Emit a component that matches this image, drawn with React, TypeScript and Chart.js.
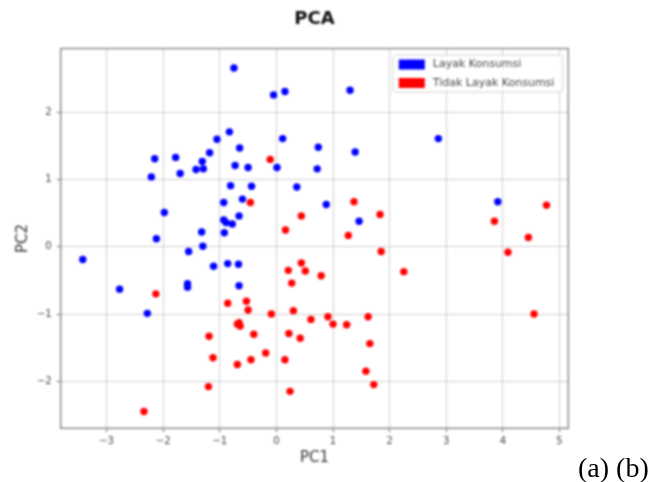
import { useEffect, useRef } from "react";
import { Chart, registerables } from "chart.js";

Chart.register(...registerables);

// Labels and ticks
const chartTitle = "PCA";
const xTitle = "PC1";
const yTitle = "PC2";
const seriesNames = ["Layak Konsumsi", "Tidak Layak Konsumsi"];
const seriesColors = ["#0000ff", "#ff0000"];
const xTicks = [-3, -2, -1, 0, 1, 2, 3, 4, 5];
const yTicks = [-2, -1, 0, 1, 2];
const xRange = [-3.81, 5.155];
const yRange = [-2.7, 2.95];

// Layak Konsumsi scores
const layakX = [
  -0.75, -0.05, 0.15, 1.3, -0.83, -1.05, 0.11, -0.65, 0.74, 1.39,
  -1.18, -2.15, -1.78, -1.31, -1.42, -1.29, -1.7, -2.21, -0.73, -0.5,
  0.01, 0.72, -0.81, -0.44, 0.36, -0.6, -0.93, 0.88, -1.98, -0.66,
  -0.93, -0.89, -0.78, -1.32, -0.92, -2.12, 1.46, 2.86, 3.91, -3.42,
  -1.55, -1.3, -1.11, -0.86, -0.67, -2.77, -1.57, -1.57, -0.66, -2.28,
];
const layakY = [
  2.66, 2.26, 2.31, 2.33, 1.71, 1.6, 1.61, 1.47, 1.48, 1.41,
  1.4, 1.31, 1.33, 1.27, 1.15, 1.16, 1.09, 1.04, 1.21, 1.18,
  1.18, 1.16, 0.91, 0.9, 0.89, 0.71, 0.66, 0.63, 0.51, 0.46,
  0.4, 0.36, 0.34, 0.22, 0.21, 0.12, 0.38, 1.61, 0.67, -0.19,
  -0.07, 0.01, -0.29, -0.25, -0.26, -0.63, -0.55, -0.6, -0.58, -0.99,
];

// Tidak Layak Konsumsi scores
const tidakX = [
  -0.11, -0.46, 0.44, 0.16, 1.27, 1.37, 1.83, 3.85, 4.77, 4.45,
  4.09, 4.55, 1.85, 2.25, -2.13, -0.86, -0.53, -0.5, -0.09, 0.3,
  0.21, 0.51, 0.44, 0.27, 0.79, 0.61, 0.91, 1.0, 1.24, -0.69,
  -0.64, -0.66, -0.4, 0.22, 0.42, -1.19, -1.12, -0.69, -0.45, -0.19,
  0.15, -1.2, 0.24, -2.34, 1.62, 1.65, 1.58, 1.72,
];
const tidakY = [
  1.3, 0.66, 0.46, 0.25, 0.17, 0.67, 0.48, 0.38, 0.62, 0.14,
  -0.08, -1.0, -0.07, -0.37, -0.7, -0.84, -0.81, -0.94, -1.0, -0.95,
  -0.35, -0.36, -0.24, -0.54, -0.43, -1.08, -1.04, -1.15, -1.16, -1.15,
  -1.18, -1.13, -1.3, -1.29, -1.36, -1.33, -1.65, -1.75, -1.68, -1.58,
  -1.68, -2.08, -2.15, -2.45, -1.04, -1.44, -1.85, -2.05,
];

const FONT = "'DejaVu Sans', 'Liberation Sans', sans-serif";

const toPoints = (xs: number[], ys: number[]) => xs.map((x, i) => ({ x, y: ys[i] }));
const fmtTick = (v: number) => (v < 0 ? "\u2212" + Math.abs(v) : String(v));

// Axes frame plus a boxed legend in the upper-right corner of the plot
const frameLegendPlugin = {
  id: "frameLegend",
  afterDatasetsDraw(chart: any) {
    const { ctx, chartArea: a } = chart;
    ctx.save();
    ctx.strokeStyle = "#7a7a7a";
    ctx.lineWidth = 1.3;
    ctx.strokeRect(a.left, a.top, a.right - a.left, a.bottom - a.top);

    const boxW = 170;
    const boxH = 37;
    const bx = a.right - 5.5 - boxW;
    const by = a.top + 6.5;
    ctx.beginPath();
    if ((ctx as any).roundRect) (ctx as any).roundRect(bx, by, boxW, boxH, 3);
    else ctx.rect(bx, by, boxW, boxH);
    ctx.fillStyle = "rgba(255,255,255,0.85)";
    ctx.fill();
    ctx.strokeStyle = "#d4d4d4";
    ctx.lineWidth = 1;
    ctx.stroke();

    ctx.font = `11px ${FONT}`;
    ctx.textBaseline = "middle";
    ctx.textAlign = "left";
    chart.data.datasets.forEach((ds: any, i: number) => {
      const cy = by + 9.5 + i * 18.5;
      ctx.fillStyle = ds.backgroundColor;
      ctx.fillRect(bx + 6, cy - 5, 26, 10);
      ctx.fillStyle = "#444";
      ctx.fillText(ds.label, bx + 40, cy);
    });
    ctx.restore();
  },
};

export default function App() {
  const canvasRef = useRef<HTMLCanvasElement | null>(null);

  useEffect(() => {
    if (!canvasRef.current) return;
    const chart = new Chart(canvasRef.current, {
      type: "scatter",
      data: {
        datasets: [
          {
            label: seriesNames[0],
            data: toPoints(layakX, layakY),
            backgroundColor: seriesColors[0],
            borderWidth: 0,
            pointRadius: 3.7,
          },
          {
            label: seriesNames[1],
            data: toPoints(tidakX, tidakY),
            backgroundColor: seriesColors[1],
            borderWidth: 0,
            pointRadius: 3.7,
          },
        ],
      },
      options: {
        animation: false,
        responsive: false,
        devicePixelRatio: 1,
        layout: { padding: { left: 0, right: 85.7, top: 0, bottom: 0 } },
        plugins: {
          legend: { display: false },
          tooltip: { enabled: false },
          title: {
            display: true,
            text: chartTitle,
            fullSize: false,
            color: "#111",
            font: { family: FONT, size: 18, weight: "bold" },
            padding: { top: 8.2, bottom: 18.7 },
          },
        },
        scales: {
          x: {
            type: "linear",
            position: "bottom",
            min: xRange[0],
            max: xRange[1],
            afterBuildTicks: (axis: any) => {
              axis.ticks = xTicks.map((value) => ({ value }));
            },
            afterFit: (axis: any) => {
              axis.height = 53.7;
            },
            ticks: {
              color: "#444",
              font: { family: FONT, size: 10 },
              padding: 3,
              maxRotation: 0,
              callback: (v: any) => fmtTick(Number(v)),
            },
            grid: { color: "#d0d0d0", lineWidth: 1, tickColor: "#7a7a7a", tickLength: 4 },
            border: { display: false },
            title: {
              display: true,
              text: xTitle,
              color: "#333",
              font: { family: FONT, size: 15 },
              padding: { top: 0, bottom: 14.5 },
            },
          },
          y: {
            type: "linear",
            min: yRange[0],
            max: yRange[1],
            afterBuildTicks: (axis: any) => {
              axis.ticks = yTicks.map((value) => ({ value }));
            },
            afterFit: (axis: any) => {
              axis.width = 60.7;
            },
            ticks: {
              color: "#444",
              font: { family: FONT, size: 10 },
              padding: 5,
              callback: (v: any) => fmtTick(Number(v)),
            },
            grid: { color: "#d0d0d0", lineWidth: 1, tickColor: "#7a7a7a", tickLength: 4 },
            border: { display: false },
            title: {
              display: true,
              text: yTitle,
              color: "#333",
              font: { family: FONT, size: 15 },
              padding: { top: 14, bottom: 0 },
            },
          },
        },
      },
      plugins: [frameLegendPlugin],
    } as any);
    return () => chart.destroy();
  }, []);

  return (
    <div style={{ position: "absolute", left: 0, top: 0, width: 654, height: 482, background: "#fff" }}>
      <canvas
        ref={canvasRef}
        width={654}
        height={482}
        style={{ display: "block", width: 654, height: 482, filter: "blur(0.8px)" }}
      />
      <span
        style={{
          position: "absolute",
          left: 578,
          top: 453.5,
          fontFamily: "'Liberation Serif', 'Times New Roman', serif",
          fontSize: 28,
          lineHeight: "28px",
          color: "#000",
          whiteSpace: "nowrap",
        }}
      >
        (a) (b)
      </span>
    </div>
  );
}
